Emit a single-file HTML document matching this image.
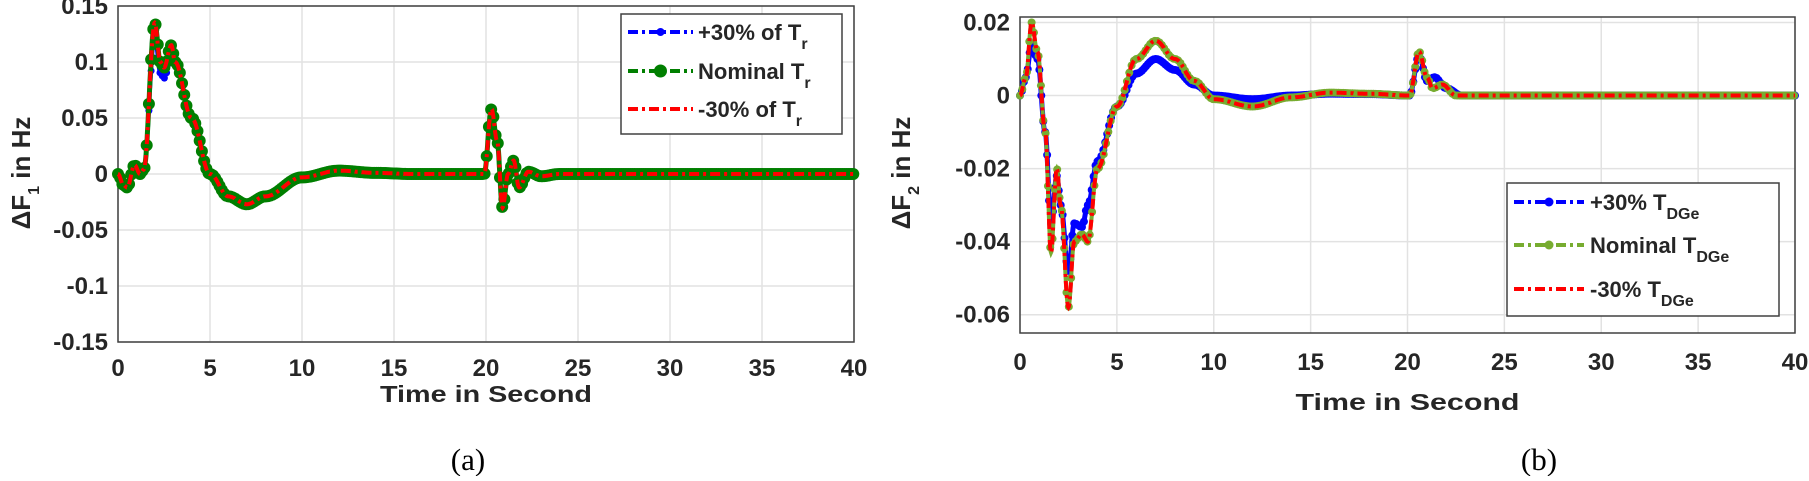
<!DOCTYPE html>
<html><head><meta charset="utf-8"><style>
body{margin:0;background:#fff;width:1809px;height:476px;overflow:hidden}
svg text{font-family:"Liberation Sans",Arial,sans-serif;font-weight:bold;fill:#262626}
</style></head><body>
<svg id="s" width="1809" height="476" viewBox="0 0 1809 476" xmlns="http://www.w3.org/2000/svg">
<g id="L"></g><g id="R"></g>
<text x="468" y="470" font-size="31" text-anchor="middle" style="font-family:'Liberation Serif',serif;font-weight:normal;fill:#000">(a)</text>
<text x="1539" y="470" font-size="31" text-anchor="middle" style="font-family:'Liberation Serif',serif;font-weight:normal;fill:#000">(b)</text>
</svg>
<script>
const NS="http://www.w3.org/2000/svg";
function el(p,t,a,txt){const e=document.createElementNS(NS,t);for(const k in a)e.setAttribute(k,a[k]);if(txt!==undefined)e.innerHTML=txt;p.appendChild(e);return e;}
function interp(pts,t){for(let i=0;i<pts.length-1;i++){if(t>=pts[i][0]&&t<=pts[i+1][0]){const a=pts[i],b=pts[i+1];let u=(t-a[0])/(b[0]-a[0]);u=(1-Math.cos(Math.PI*u))/2;return a[1]+(b[1]-a[1])*u;}}return pts[pts.length-1][1];}
function plot(g,o){
 const X=t=>o.x0+(o.x1-o.x0)*t/40, Y=v=>o.yT+(o.yB-o.yT)*(o.ymax-v)/(o.ymax-o.ymin);
 for(let t=0;t<=40;t+=5){el(g,'line',{x1:X(t),x2:X(t),y1:o.yT,y2:o.yB,stroke:'#e2e2e2','stroke-width':1.5});
  el(g,'text',{x:X(t),y:o.tickY,'font-size':24,'text-anchor':'middle'},t);}
 o.yt.forEach(v=>{el(g,'line',{x1:o.x0,x2:o.x1,y1:Y(v),y2:Y(v),stroke:'#e2e2e2','stroke-width':1.5});
  el(g,'text',{x:o.x0-10,y:Y(v)+8,'font-size':24,'text-anchor':'end'},o.fmt(v));});
 el(g,'rect',{x:o.x0,y:o.yT,width:o.x1-o.x0,height:o.yB-o.yT,fill:'none',stroke:'#404040','stroke-width':1.5});
 o.series.forEach(s=>{let d='';const step=0.02;
  for(let t=0;t<=40.0001;t+=step){d+=(d?'L':'M')+X(t).toFixed(1)+','+Y(interp(s.p,t)).toFixed(1);}
  el(g,'path',{d:d,fill:'none',stroke:s.c,'stroke-width':s.w,'stroke-dasharray':s.da||'none'});
  if(s.m){for(let t=0;t<=40.0001;t+=s.ms){el(g,'circle',{cx:X(t),cy:Y(interp(s.p,t)),r:s.m,fill:s.c});}}
 });
 el(g,'text',{x:(o.x0+o.x1)/2,y:o.xlY,'font-size':23,'text-anchor':'middle',textLength:o.xlW,lengthAdjust:'spacingAndGlyphs'},'Time in Second');
 el(g,'text',{x:0,y:0,'font-size':26,'text-anchor':'middle',transform:`translate(${o.ylX},${o.ylY}) rotate(-90)`},o.yl);
 const lg=o.leg;el(g,'rect',{x:lg.x,y:lg.y,width:lg.w,height:lg.h,fill:'#fff',stroke:'#404040','stroke-width':1.5});
 lg.items.forEach((it,i)=>{const yy=lg.bl[i]-8;
  el(g,'line',{x1:lg.x+7,x2:lg.x+lg.lw,y1:yy,y2:yy,stroke:it.c,'stroke-width':4,'stroke-dasharray':'10,4,3,4'});
  if(it.m)el(g,'circle',{cx:lg.x+(7+lg.lw)/2,cy:yy,r:it.m,fill:it.c});
  el(g,'text',{x:lg.tx,y:lg.bl[i],'font-size':22},it.t);});
}
const p1=[[0,0],[0.3,-0.01],[0.5,-0.012],[0.9,0.008],[1.2,0],[1.4,0.004],[2.0,0.135],[2.3,0.1],[2.5,0.095],[2.9,0.115],[3.1,0.1],[4,0.05],[5,0],[6,-0.02],[7,-0.027],[8,-0.02],[10,-0.003],[12,0.003],[14,0.001],[16,0],[19.9,0],[20.3,0.058],[20.6,0.03],[20.9,-0.03],[21.2,0],[21.5,0.012],[21.8,-0.012],[22.3,0.002],[23,-0.002],[24,0],[40,0]];
const p1b=p1.map(([t,v])=>[t,(t>1.8&&t<3)?v*0.9:v]);
const sub=s=>'<tspan baseline-shift="sub" font-size="16">'+s+'</tspan>';
plot(document.getElementById('L'),{x0:118,x1:854,yT:6,yB:342,ymin:-0.15,ymax:0.15,yt:[0.15,0.1,0.05,0,-0.05,-0.1,-0.15],
 fmt:v=>v===0?'0':String(+v.toFixed(2)),tickY:376,xlY:402,xlW:212,ylX:30,ylY:173,yl:'ΔF'+sub('1')+' in Hz',
 series:[{p:p1b,c:'#0000ff',w:4,m:3.5,ms:0.12},{p:p1,c:'#007f00',w:5,m:6,ms:0.12},{p:p1,c:'#ff0000',w:4,da:'10,4,3,4'}],
 leg:{x:621,y:14,w:221,h:120,lw:72,tx:698,bl:[40,79,117],items:[{t:'+30% of T'+sub('r'),c:'#0000ff',m:4},{t:'Nominal T'+sub('r'),c:'#007f00',m:6.5},{t:'-30% of T'+sub('r'),c:'#ff0000'}]}});
const p2=[[0,0],[0.3,0.005],[0.6,0.02],[0.9,0.012],[1.3,-0.01],[1.6,-0.043],[1.9,-0.02],[2.1,-0.03],[2.5,-0.058],[2.8,-0.04],[3.2,-0.038],[3.5,-0.04],[4,-0.02],[5,-0.003],[6,0.01],[7,0.015],[8,0.01],[9,0.004],[10,-0.001],[12,-0.003],[14,-0.0005],[16,0.0008],[18,0.0005],[20.1,0],[20.6,0.012],[21,0.005],[21.3,0.002],[21.8,0.003],[22.5,0],[40,0]];
const p2b=[[0,0],[0.3,0.005],[0.6,0.014],[0.9,0.01],[1.3,-0.01],[1.6,-0.035],[1.9,-0.022],[2.1,-0.03],[2.5,-0.048],[2.8,-0.035],[3.2,-0.036],[3.5,-0.03],[4,-0.018],[5,-0.003],[6,0.006],[7,0.01],[8,0.007],[9,0.003],[10,0],[12,-0.001],[14,0],[16,0.0005],[18,0.0004],[20.1,0],[20.6,0.011],[21,0.004],[21.4,0.005],[22,0.002],[22.8,0],[40,0]];
plot(document.getElementById('R'),{x0:1020,x1:1795,yT:17,yB:333,ymin:-0.065,ymax:0.0215,yt:[0.02,0,-0.02,-0.04,-0.06],
 fmt:v=>v===0?'0':String(+v.toFixed(2)),tickY:370,xlY:410,xlW:224,ylX:910,ylY:173,yl:'ΔF'+sub('2')+' in Hz',
 series:[{p:p2b,c:'#0000ff',w:5,m:4,ms:0.1},{p:p2,c:'#77ac30',w:4,m:4,ms:0.12},{p:p2,c:'#ff0000',w:4,da:'10,4,3,4'}],
 leg:{x:1507,y:183,w:272,h:133,lw:77,tx:1590,bl:[210,253,297],items:[{t:'+30% T'+sub('DGe'),c:'#0000ff',m:4.5},{t:'Nominal T'+sub('DGe'),c:'#77ac30',m:4.5},{t:' -30% T'+sub('DGe'),c:'#ff0000'}]}});
</script>
</body></html>
